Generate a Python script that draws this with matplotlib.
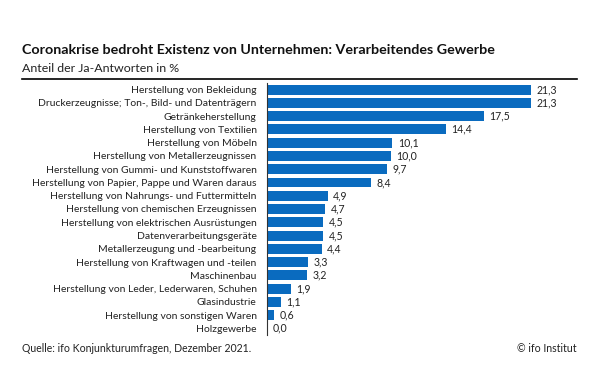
import matplotlib
matplotlib.use('Agg')
import matplotlib.pyplot as plt
from matplotlib.lines import Line2D

categories = [
    'Herstellung von Bekleidung',
    'Druckerzeugnisse; Ton-, Bild- und Datenträgern',
    'Getränkeherstellung',
    'Herstellung von Textilien',
    'Herstellung von Möbeln',
    'Herstellung von Metallerzeugnissen',
    'Herstellung von Gummi- und Kunststoffwaren',
    'Herstellung von Papier, Pappe und Waren daraus',
    'Herstellung von Nahrungs- und Futtermitteln',
    'Herstellung von chemischen Erzeugnissen',
    'Herstellung von elektrischen Ausrüstungen',
    'Datenverarbeitungsgeräte',
    'Metallerzeugung und -bearbeitung',
    'Herstellung von Kraftwagen und -teilen',
    'Maschinenbau',
    'Herstellung von Leder, Lederwaren, Schuhen',
    'Glasindustrie',
    'Herstellung von sonstigen Waren',
    'Holzgewerbe',
]
values = [21.3, 21.3, 17.5, 14.4, 10.1, 10.0, 9.7, 8.4, 4.9, 4.7, 4.5, 4.5, 4.4, 3.3, 3.2, 1.9, 1.1, 0.6, 0.0]

plt.rcParams['font.family'] = ['Lato', 'DejaVu Sans']

fig = plt.figure(figsize=(6, 3.86), dpi=100)
ax = fig.add_axes([267/600, 1-335/386, 310/600, 252/386])

pos = list(range(len(values)))
ax.barh(pos, values, height=0.75, color='#0a6bbf')
ax.set_ylim(len(values)-0.5, -0.5)
ax.set_xlim(0, 25)
ax.set_yticks(pos)
ax.set_yticklabels(categories, fontsize=7.5, color='#222222')
ax.tick_params(axis='y', length=0, pad=7.5)
ax.set_xticks([])
for s in ['top', 'right', 'bottom']:
    ax.spines[s].set_visible(False)
ax.spines['left'].set_color('#333333')
ax.spines['left'].set_linewidth(0.8)

for p, v in zip(pos, values):
    ax.text(v + 0.45, p, f'{v:.1f}'.replace('.', ','), va='center', ha='left',
            fontsize=7.6, color='#222222')

fig.text(22/600, 1-50/386, 'Coronakrise bedroht Existenz von Unternehmen: Verarbeitendes Gewerbe',
         fontsize=10.3, fontweight='bold', va='center', ha='left', color='#111111')
fig.text(22/600, 1-68/386, 'Anteil der Ja-Antworten in %', fontsize=8.9,
         va='center', ha='left', color='#222222')
fig.add_artist(Line2D([22/600, 577/600], [1-79/386, 1-79/386], color='black', linewidth=1.2))
fig.text(22/600, 1-348/386, 'Quelle: ifo Konjunkturumfragen, Dezember 2021.', fontsize=7.6,
         va='center', ha='left', color='#222222')
fig.text(577/600, 1-348/386, '© ifo Institut', fontsize=7.6,
         va='center', ha='right', color='#222222')

fig.savefig('out.png', dpi=100)
